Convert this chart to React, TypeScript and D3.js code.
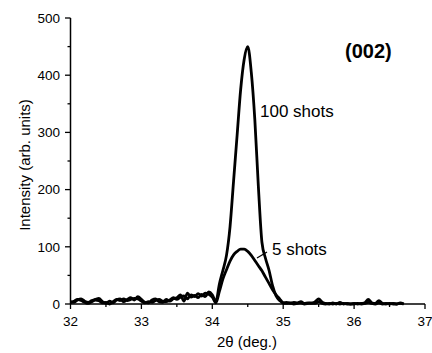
import React, { useEffect, useRef } from "react";
import * as d3 from "d3";

const angles = [
  32.0, 32.05, 32.1, 32.15, 32.2, 32.25, 32.3, 32.35, 32.4, 32.45,
  32.5, 32.55, 32.6, 32.65, 32.7, 32.75, 32.8, 32.85, 32.9, 32.95,
  33.0, 33.05, 33.1, 33.15, 33.2, 33.25, 33.3, 33.35, 33.4, 33.45,
  33.5, 33.55, 33.6, 33.65, 33.7, 33.75, 33.8, 33.85, 33.9, 33.95,
  34.0, 34.05, 34.1, 34.15, 34.2, 34.25, 34.3, 34.35, 34.4, 34.45,
  34.5, 34.55, 34.6, 34.65, 34.7, 34.75, 34.8, 34.85, 34.9, 34.95,
  35.0, 35.05, 35.1, 35.15, 35.2, 35.25, 35.3, 35.35, 35.4, 35.45,
  35.5, 35.55, 35.6, 35.65, 35.7, 35.75, 35.8, 35.85, 35.9, 35.95,
  36.0, 36.05, 36.1, 36.15, 36.2, 36.25, 36.3, 36.35, 36.4, 36.45,
  36.5, 36.55, 36.6, 36.65, 36.7,
];

const shots100 = [
  4, 3, 7, 9, 5, 3, 6, 8, 10, 4,
  1, 5, 2, 7, 9, 4, 8, 11, 7, 13,
  8, 3, 2, 7, 9, 4, 3, 8, 5, 9,
  11, 16, 5, 19, 12, 15, 11, 17, 13, 21,
  16, 4, 35, 59, 85, 135, 215, 295, 375, 428,
  450, 405, 322, 205, 108, 80, 59, 32, 14, 6,
  2, 3, 1, 3, 2, 4, 1, 2, 1, 4,
  9, 3, 1, 0, 2, 0, 3, 0, 1, 0,
  1, 0, 1, 2, 8, 2, 1, 6, 1, 0,
  1, 0, 0, 2, 0,
];

const shots5 = [
  2, 5, 8, 6, 3, 1, 4, 7, 6, 2,
  3, 0, 4, 8, 6, 9, 6, 8, 10, 9,
  5, 2, 4, 3, 6, 8, 5, 4, 7, 11,
  8, 12, 14, 9, 16, 13, 18, 14, 19, 17,
  12, 2, 22, 44, 60, 75, 86, 92, 96, 96,
  92, 85, 76, 67, 58, 47, 36, 25, 16, 9,
  2, 1, 2, 0, 1, 2, 0, 1, 2, 1,
  4, 1, 0, 1, 0, 1, 0, 1, 0, 0,
  0, 1, 0, 1, 3, 1, 0, 2, 0, 1,
  0, 1, 0, 1, 0,
];

const xTicks = [32, 33, 34, 35, 36, 37];
const xMinorTicks = [32.5, 33.5, 34.5, 35.5, 36.5];
const yTicks = [0, 100, 200, 300, 400, 500];
const yMinorTicks = [50, 150, 250, 350, 450];

const W = 432;
const H = 353;
const FONT = "'Liberation Sans', Arial, Helvetica, sans-serif";

export default function App() {
  const ref = useRef<SVGSVGElement>(null);

  useEffect(() => {
    const svg = d3.select(ref.current);
    svg.selectAll("*").remove();

    const x = d3.scaleLinear().domain([32, 37]).range([70.5, 425]);
    const y = d3.scaleLinear().domain([0, 500]).range([304, 18]);

    const g = svg.append("g");

    // x axis
    const xAxis = g.append("g").attr("transform", `translate(0,${y(0)})`);
    xAxis
      .append("line")
      .attr("x1", x(32))
      .attr("x2", x(37))
      .attr("stroke", "#000")
      .attr("stroke-width", 1.5);
    xTicks.forEach((t) => {
      xAxis
        .append("line")
        .attr("x1", x(t))
        .attr("x2", x(t))
        .attr("y1", 0)
        .attr("y2", 5)
        .attr("stroke", "#000")
        .attr("stroke-width", 1.3);
      xAxis
        .append("text")
        .attr("x", x(t))
        .attr("y", 21.5)
        .attr("text-anchor", "middle")
        .attr("font-family", FONT)
        .attr("font-size", 13.5)
        .text(String(t));
    });
    xMinorTicks.forEach((t) => {
      xAxis
        .append("line")
        .attr("x1", x(t))
        .attr("x2", x(t))
        .attr("y1", 0)
        .attr("y2", 3)
        .attr("stroke", "#000")
        .attr("stroke-width", 1.3);
    });

    // y axis
    const yAxis = g.append("g").attr("transform", `translate(${x(32)},0)`);
    yAxis
      .append("line")
      .attr("y1", y(0))
      .attr("y2", y(500))
      .attr("stroke", "#000")
      .attr("stroke-width", 1.5);
    yTicks.forEach((t) => {
      yAxis
        .append("line")
        .attr("x1", 0)
        .attr("x2", -5.5)
        .attr("y1", y(t))
        .attr("y2", y(t))
        .attr("stroke", "#000")
        .attr("stroke-width", 1.3);
      yAxis
        .append("text")
        .attr("x", -10.5)
        .attr("y", y(t))
        .attr("dy", "0.35em")
        .attr("text-anchor", "end")
        .attr("font-family", FONT)
        .attr("font-size", 13.5)
        .text(String(t));
    });
    yMinorTicks.forEach((t) => {
      yAxis
        .append("line")
        .attr("x1", 0)
        .attr("x2", -3)
        .attr("y1", y(t))
        .attr("y2", y(t))
        .attr("stroke", "#000")
        .attr("stroke-width", 1.3);
    });

    // axis titles
    g.append("text")
      .attr("x", 247)
      .attr("y", 347)
      .attr("text-anchor", "middle")
      .attr("font-family", FONT)
      .attr("font-size", 15)
      .text("2θ (deg.)");
    g.append("text")
      .attr("transform", `translate(30,165) rotate(-90)`)
      .attr("text-anchor", "middle")
      .attr("font-family", FONT)
      .attr("font-size", 15)
      .text("Intensity (arb. units)");

    const line = (vals: number[]) =>
      d3
        .line<number>()
        .x((_, i) => x(angles[i]))
        .y((d) => y(d))
        .curve(d3.curveMonotoneX)(vals);

    g.append("path")
      .attr("d", line(shots5))
      .attr("fill", "none")
      .attr("stroke", "#000")
      .attr("stroke-width", 2.8)
      .attr("stroke-linejoin", "round");
    g.append("path")
      .attr("d", line(shots100))
      .attr("fill", "none")
      .attr("stroke", "#000")
      .attr("stroke-width", 2.8)
      .attr("stroke-linejoin", "round");

    // annotations
    g.append("text")
      .attr("x", 260)
      .attr("y", 117)
      .attr("font-family", FONT)
      .attr("font-size", 17)
      .text("100 shots");
    g.append("line")
      .attr("x1", 257)
      .attr("y1", 258)
      .attr("x2", 267)
      .attr("y2", 252)
      .attr("stroke", "#000")
      .attr("stroke-width", 1.2);
    g.append("text")
      .attr("x", 272)
      .attr("y", 255)
      .attr("font-family", FONT)
      .attr("font-size", 17)
      .text("5 shots");
    g.append("text")
      .attr("x", 345)
      .attr("y", 58)
      .attr("font-family", FONT)
      .attr("font-size", 20)
      .attr("font-weight", "bold")
      .text("(002)");
  }, []);

  return (
    <svg
      ref={ref}
      width={W}
      height={H}
      style={{ position: "absolute", left: 0, top: 0, background: "#fff" }}
    />
  );
}
